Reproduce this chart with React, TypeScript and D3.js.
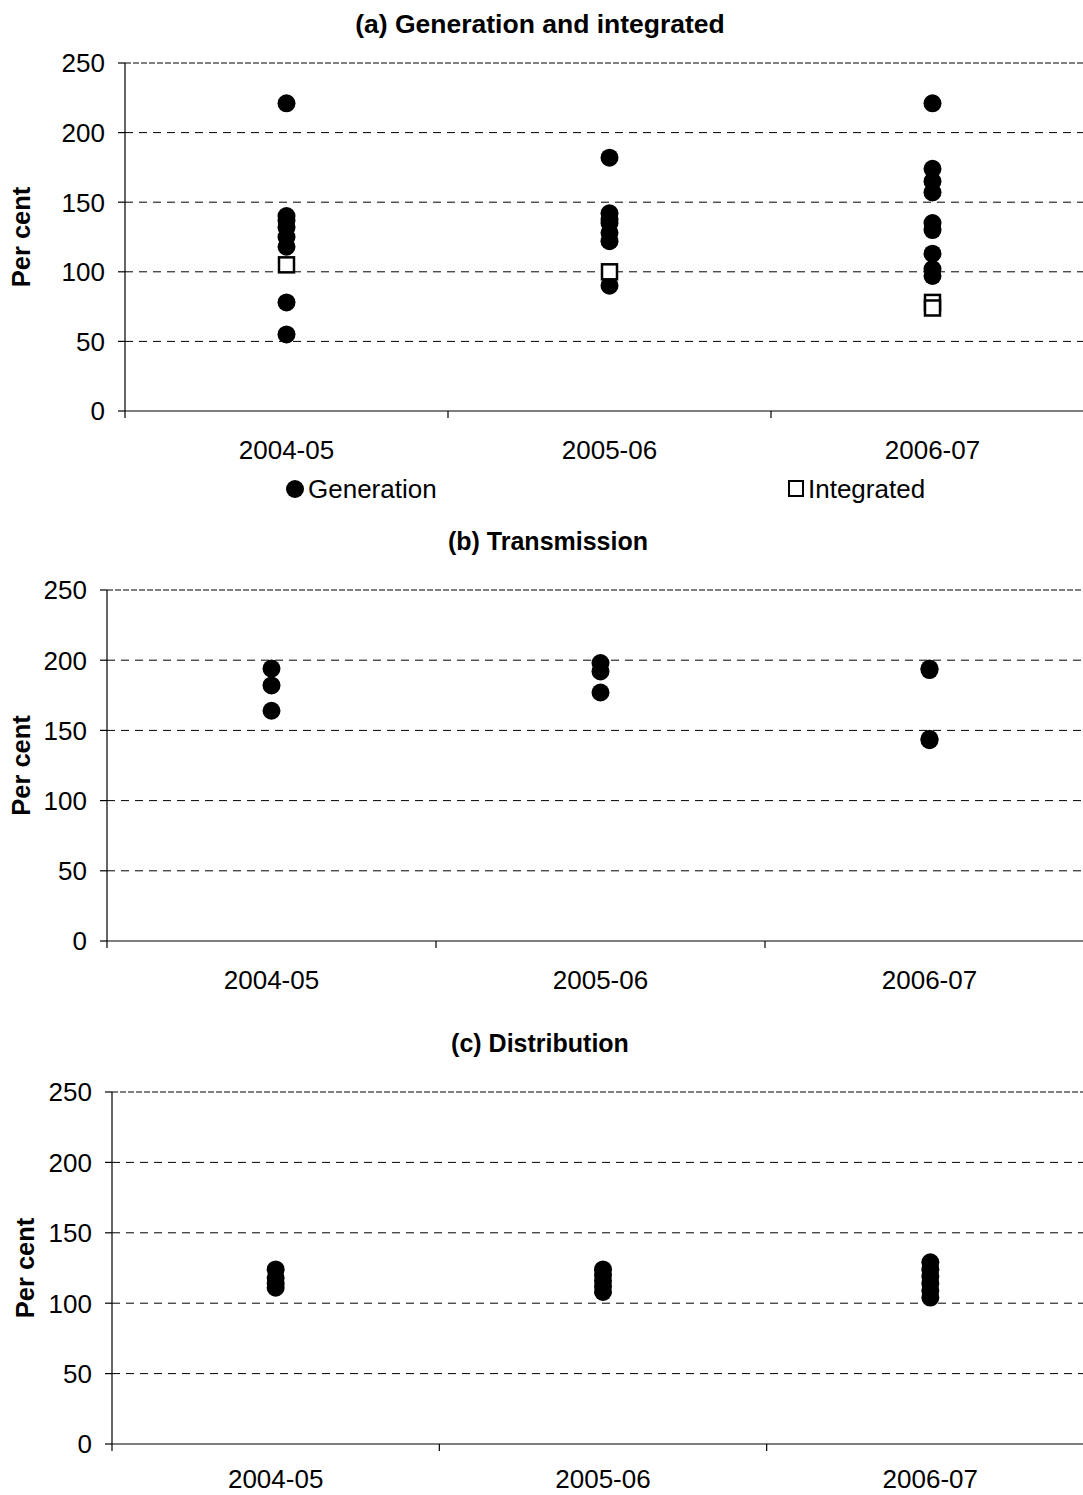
import * as d3 from "d3";

const CATEGORIES = ["2004-05", "2005-06", "2006-07"];
const Y_TICKS = [0, 50, 100, 150, 200, 250];

// (a) generation and integrated businesses
const GENERATION = [
  [221, 140, 137, 132, 125, 118, 78, 55],
  [182, 142, 138, 135, 128, 122, 90],
  [221, 174, 165, 157, 135, 130, 113, 102, 97],
];
const INTEGRATED = [[105], [100], [78, 74]];

// (b) transmission
const TRANSMISSION = [
  [194, 182, 164],
  [198, 192, 177],
  [194, 193, 144, 143],
];

// (c) distribution
const DISTRIBUTION = [
  [124, 118, 114, 111],
  [124, 120, 116, 112, 108],
  [129, 124, 119, 114, 109, 104],
];

const FONT = "'Liberation Sans', Arial, sans-serif";
const RIGHT = 1094;
const TICK_SIZE = 26;

type PanelProps = {
  title: string;
  titleX: number;
  titleY: number;
  titleSize: number;
  top: number;
  bottom: number;
  left: number;
  labelX: number;
  xLabelGap: number;
  dots: number[][];
  squares?: number[][];
};

function Panel({ title, titleX, titleY, titleSize, top, bottom, left, labelX, xLabelGap, dots, squares }: PanelProps) {
  const x = d3.scaleBand<string>().domain(CATEGORIES).range([left, RIGHT]);
  const y = d3.scaleLinear().domain([0, 250]).range([bottom, top]);
  const cx = (c: string) => x(c)! + x.bandwidth() / 2;

  return (
    <g>
      <text x={titleX} y={titleY} textAnchor="middle" fontWeight="bold" fontSize={titleSize} fontFamily={FONT}>
        {title}
      </text>
      <text
        transform={`translate(${labelX},${(top + bottom) / 2}) rotate(-90)`}
        textAnchor="middle"
        fontWeight="bold"
        fontSize={25.5}
        fontFamily={FONT}
      >
        Per cent
      </text>

      {/* gridlines */}
      {Y_TICKS.filter((t) => t > 0).map((t) => (
        <line
          key={t}
          x1={left}
          x2={RIGHT}
          y1={y(t)}
          y2={y(t)}
          stroke="#000"
          strokeWidth={1}
          strokeDasharray={t === 250 ? "6,2" : "8,6"}
        />
      ))}

      {/* y axis */}
      <line x1={left} x2={left} y1={top} y2={bottom + 7} stroke="#000" strokeWidth={1.2} />
      {Y_TICKS.map((t) => (
        <g key={t}>
          <line x1={left - 7} x2={left} y1={y(t)} y2={y(t)} stroke="#000" strokeWidth={1.2} />
          <text x={left - 20} y={y(t)} dy="0.36em" textAnchor="end" fontSize={TICK_SIZE} fontFamily={FONT}>
            {t}
          </text>
        </g>
      ))}

      {/* x axis */}
      <line x1={left} x2={RIGHT} y1={bottom} y2={bottom} stroke="#000" strokeWidth={1.2} />
      {CATEGORIES.map((c, i) => (
        <g key={c}>
          {i > 0 && (
            <line x1={x(c)} x2={x(c)} y1={bottom} y2={bottom + 7} stroke="#000" strokeWidth={1.2} />
          )}
          <text x={cx(c)} y={bottom + xLabelGap} textAnchor="middle" fontSize={TICK_SIZE} fontFamily={FONT}>
            {c}
          </text>
        </g>
      ))}

      {/* markers */}
      {CATEGORIES.map((c, i) =>
        dots[i].map((v, j) => <circle key={`d${i}-${j}`} cx={cx(c)} cy={y(v)} r={9} fill="#000" />)
      )}
      {squares &&
        CATEGORIES.map((c, i) =>
          squares[i].map((v, j) => (
            <rect
              key={`s${i}-${j}`}
              x={cx(c) - 7.5}
              y={y(v) - 7.5}
              width={15}
              height={15}
              fill="#fff"
              stroke="#000"
              strokeWidth={2.5}
            />
          ))
        )}
    </g>
  );
}

export default function App() {
  return (
    <svg
      width={1083}
      height={1495}
      style={{ position: "absolute", left: 0, top: 0, background: "#fff" }}
    >
      <rect width={1083} height={1495} fill="#fff" />
      <Panel
        title="(a) Generation and integrated"
        titleX={540}
        titleY={33}
        titleSize={26.5}
        top={63}
        bottom={411}
        left={125}
        labelX={30}
        xLabelGap={48}
        dots={GENERATION}
        squares={INTEGRATED}
      />
      {/* legend for (a) */}
      <circle cx={295} cy={489} r={9} fill="#000" />
      <text x={308} y={498} fontSize={TICK_SIZE} fontFamily={FONT}>
        Generation
      </text>
      <rect x={789} y={481} width={14} height={15} fill="#fff" stroke="#000" strokeWidth={2} />
      <text x={808} y={498} fontSize={TICK_SIZE} fontFamily={FONT}>
        Integrated
      </text>

      <Panel
        title="(b) Transmission"
        titleX={548}
        titleY={550}
        titleSize={25}
        top={590}
        bottom={941}
        left={107}
        labelX={30}
        xLabelGap={48}
        dots={TRANSMISSION}
      />
      <Panel
        title="(c) Distribution"
        titleX={540}
        titleY={1052}
        titleSize={25}
        top={1092}
        bottom={1444}
        left={112}
        labelX={34}
        xLabelGap={44}
        dots={DISTRIBUTION}
      />
    </svg>
  );
}
